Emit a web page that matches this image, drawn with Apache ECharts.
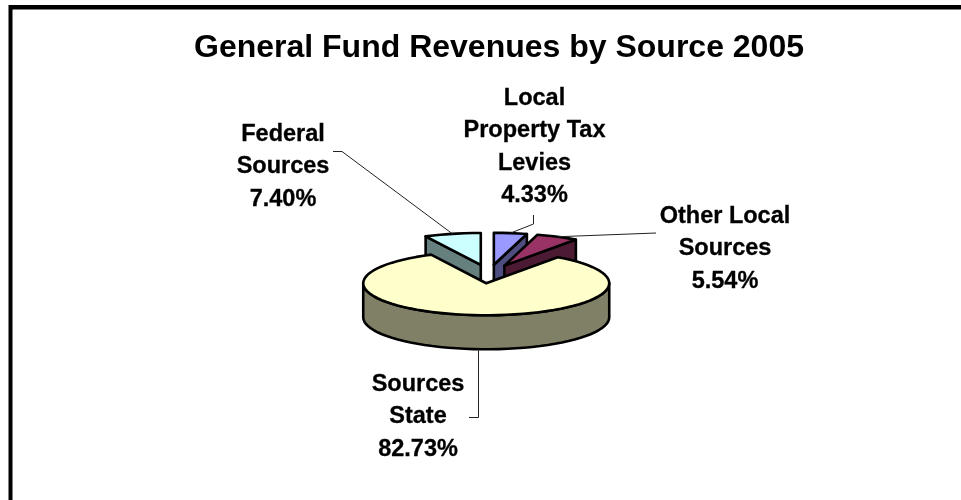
<!DOCTYPE html>
<html lang="en" style="height: 100%">
<head>
    <meta charset="utf-8">
    <script src="https://cdn.jsdelivr.net/npm/echarts@6/dist/echarts.min.js"></script>
</head>
<body style="height: 100%; margin: 0; background: #fff">
<div id="container" style="width: 961px; height: 500px"></div>
<script type="text/javascript">
    var titleText = 'General Fund Revenues by Source 2005';
    var sliceNames = ['Local\nProperty Tax\nLevies', 'Other Local\nSources', 'Sources\nState', 'Federal\nSources'];
    var sliceValues = [4.33, 5.54, 82.73, 7.40];
    var topColors = ['#9999ff', '#993366', '#ffffcc', '#ccffff'];
    var sideColors = ['#4d4d80', '#4d1a33', '#808066', '#668080'];

    // pie geometry (excel style tilted pie)
    var cx = 489, cy = 274, rx = 123, ry = 32, depth = 34, explode = 0.29;
    // label block centres and the elbow of each leader line
    var labelAt = [[534.5, 147], [725, 249], [418, 417], [283, 167]];
    var leaderFrom = [[[533.5, 215], [533.5, 224]], [[656, 233]], [[469, 417.5], [478.5, 417.5]], [[333, 151.5], [342, 151.5]]];

    var total = sliceValues.reduce(function (a, b) { return a + b; }, 0);
    var slices = [];
    var sum = 0;
    sliceValues.forEach(function (v) {
        var a0 = sum / total * 360;
        sum += v;
        var a1 = sum / total * 360;
        var mid = (a0 + a1) / 2 * Math.PI / 180;
        slices.push({
            a0: a0,
            a1: a1,
            mid: mid,
            ox: cx + explode * rx * Math.sin(mid),
            oy: cy - explode * ry * Math.cos(mid)
        });
    });

    function rim(s, deg, dy) {
        var t = deg * Math.PI / 180;
        return [s.ox + rx * Math.sin(t), s.oy - ry * Math.cos(t) + (dy || 0)];
    }

    function arcPoints(s, from, to, dy) {
        var pts = [];
        var n = Math.max(2, Math.ceil((to - from) / 4));
        for (var i = 0; i <= n; i++) {
            pts.push(rim(s, from + (to - from) * i / n, dy));
        }
        return pts;
    }

    function poly(points, fill) {
        return {
            type: 'polygon',
            shape: {points: points},
            style: {fill: fill, stroke: '#000', lineWidth: 2.6, lineJoin: 'round'}
        };
    }

    function renderSlice(params) {
        var idx = params.dataIndex === 0 ? 3 : params.dataIndex - 1;
        var s = slices[idx];
        var apex = [s.ox, s.oy];
        var kids = [];
        // front wall on the outer rim
        var from = Math.max(s.a0, 90), to = Math.min(s.a1, 270);
        if (to > from) {
            kids.push(poly(arcPoints(s, from, to, 0).concat(arcPoints(s, from, to, depth).reverse()), sideColors[idx]));
        }
        // radial wall facing the viewer
        if (idx !== 2) {
            var edge = idx === 3 ? s.a0 : s.a1;
            var p = rim(s, edge);
            kids.push(poly([apex, p, [p[0], p[1] + depth], [apex[0], apex[1] + depth]], sideColors[idx]));
        }
        kids.push(poly([apex].concat(arcPoints(s, s.a0, s.a1, 0)), topColors[idx]));
        return {type: 'group', children: kids};
    }

    function renderLabel(params) {
        var i = params.dataIndex;
        var s = slices[i];
        var deg = s.mid * 180 / Math.PI;
        var end = rim(s, deg, i === 2 ? depth : 0);
        // the state leader runs straight down from the wall
        if (i === 2) {
            end[0] = leaderFrom[2][1][0];
        }
        return {
            type: 'group',
            children: [{
                type: 'polyline',
                shape: {points: leaderFrom[i].concat([end])},
                style: {fill: null, stroke: '#222', lineWidth: 1}
            }, {
                type: 'text',
                x: labelAt[i][0],
                y: labelAt[i][1],
                style: {
                    text: sliceNames[i] + '\n' + sliceValues[i].toFixed(2) + '%',
                    fill: '#000',
                    stroke: '#000',
                    lineWidth: 0.3,
                    align: 'center',
                    verticalAlign: 'middle',
                    lineHeight: 32.4,
                    font: 'bold 23.5px "Liberation Sans", Arial, sans-serif'
                }
            }]
        };
    }

    var myChart = echarts.init(document.getElementById('container'), null, {renderer: 'canvas'});
    var option = {
        animation: false,
        backgroundColor: '#fff',
        title: {
            text: titleText,
            left: 494,
            top: 43,
            textAlign: 'center',
            textVerticalAlign: 'middle',
            textStyle: {
                fontFamily: '"Liberation Sans", Arial, sans-serif',
                fontWeight: 'bold',
                fontSize: 32,
                color: '#000'
            }
        },
        graphic: [
            {type: 'rect', shape: {x: 9, y: 5, width: 952, height: 4.5}, style: {fill: '#000'}},
            {type: 'rect', shape: {x: 8.5, y: 5, width: 4, height: 495}, style: {fill: '#000'}}
        ],
        series: [{
            type: 'custom',
            coordinateSystem: 'none',
            silent: true,
            clip: false,
            z: 2,
            // draw the far slices first, the big one goes on top
            data: [sliceValues[3], sliceValues[0], sliceValues[1], sliceValues[2]],
            renderItem: renderSlice
        }, {
            type: 'custom',
            coordinateSystem: 'none',
            silent: true,
            clip: false,
            z: 3,
            data: sliceValues,
            renderItem: renderLabel
        }]
    };
    myChart.setOption(option);
</script>
</body>
</html>
